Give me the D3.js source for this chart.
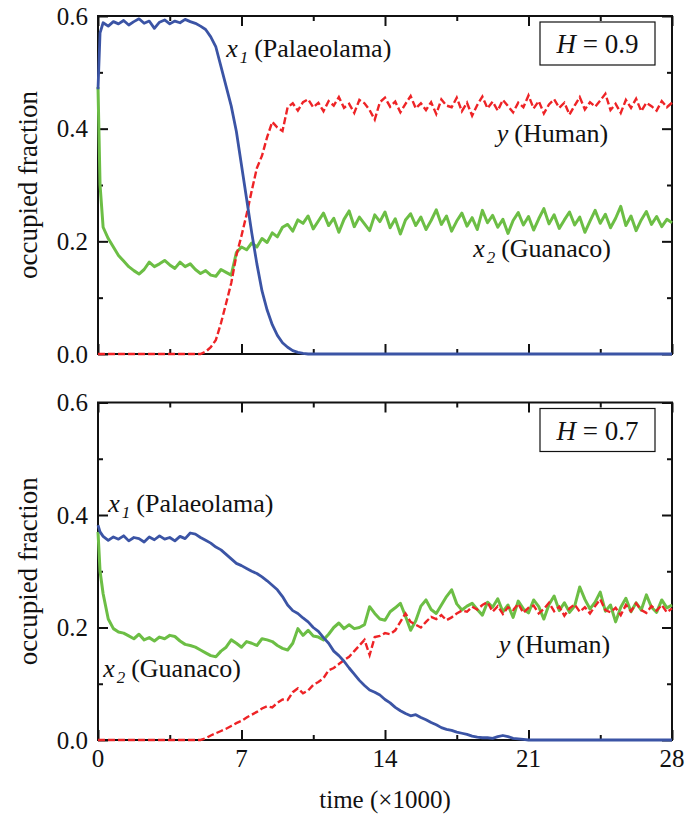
<!DOCTYPE html>
<html>
<head>
<meta charset="utf-8">
<script src="https://cdn.jsdelivr.net/npm/d3@7"></script>
<style>
  html, body { margin: 0; padding: 0; background: #fff; }
  svg { display: block; }
  text { font-family: "Liberation Serif", "Times New Roman", serif; fill: #111; }
</style>
</head>
<body>
<svg id="chart" width="695" height="814"></svg>
<script>
// ---------- DATA ----------
// time grid (×1000): 0, 0.1, then every 0.25 up to 28
const time = [0, 0.1].concat(d3.range(1, 113).map(i => i * 0.25));

const xTicksMajor = [0, 7, 14, 21, 28];
const xTicksMinor = [3.5, 10.5, 17.5, 24.5];
const yTicksMajor = [0, 0.2, 0.4, 0.6];
const yTicksMinor = [0.1, 0.3, 0.5];

const panelH = ["0.9", "0.7"];

// H = 0.9 panel
const palaeolamaH9 = [0.47, 0.57,
  0.588, 0.582, 0.590, 0.586,  0.592, 0.584, 0.590, 0.595,  0.587, 0.591, 0.578, 0.589,
  0.593, 0.586, 0.591, 0.588,  0.594, 0.590, 0.587, 0.582,  0.576, 0.563, 0.545, 0.510,
  0.475, 0.440, 0.395, 0.335,  0.275, 0.215, 0.160, 0.112,  0.078, 0.052, 0.033, 0.020,
  0.012, 0.006, 0.003, 0.001,  0, 0, 0, 0,  0, 0, 0, 0,  0, 0, 0, 0,  0, 0, 0, 0,
  0, 0, 0, 0,  0, 0, 0, 0,  0, 0, 0, 0,  0, 0, 0, 0,  0, 0, 0, 0,  0, 0, 0, 0,
  0, 0, 0, 0,  0, 0, 0, 0,  0, 0, 0, 0,  0, 0, 0, 0,  0, 0, 0, 0,  0, 0, 0, 0,
  0, 0, 0, 0,  0, 0, 0, 0];
const humanH9 = [0, 0,
  0, 0, 0, 0,  0, 0, 0, 0,  0, 0, 0, 0,  0, 0, 0, 0,  0, 0, 0, 0,
  0.004, 0.012, 0.025, 0.055,  0.09, 0.126, 0.175, 0.21,  0.248, 0.29, 0.33, 0.352,
  0.385, 0.412, 0.402, 0.396,  0.438, 0.445, 0.432, 0.447,  0.452, 0.438, 0.446, 0.431,
  0.449, 0.441, 0.456, 0.437,  0.444, 0.428, 0.451, 0.445,  0.433, 0.416, 0.447, 0.455,
  0.439, 0.448, 0.429, 0.444,  0.458, 0.436, 0.445, 0.433,  0.447, 0.426, 0.452, 0.441,
  0.438, 0.455, 0.431, 0.446,  0.423, 0.442, 0.457, 0.436,  0.448, 0.432, 0.451, 0.44,
  0.429, 0.446, 0.438, 0.459,  0.436, 0.449, 0.427, 0.443,  0.452, 0.437, 0.446, 0.425,
  0.441, 0.456, 0.434, 0.447,  0.439, 0.45, 0.462, 0.433,  0.444, 0.428, 0.451, 0.437,
  0.453, 0.431, 0.446, 0.44,  0.432, 0.449, 0.438, 0.446];
const guanacoH9 = [0.474, 0.30,
  0.225, 0.205, 0.19, 0.175,  0.165, 0.155, 0.148, 0.142,  0.15, 0.163, 0.155, 0.16,
  0.166, 0.158, 0.152, 0.163,  0.155, 0.16, 0.15, 0.143,  0.148, 0.14, 0.138, 0.15,
  0.145, 0.14, 0.18, 0.19,  0.185, 0.197, 0.19, 0.205,  0.198, 0.215, 0.208, 0.225,
  0.23, 0.218, 0.238, 0.232,  0.245, 0.222, 0.236, 0.25,  0.228, 0.241, 0.216, 0.239,
  0.254, 0.226, 0.243, 0.231,  0.219, 0.247, 0.235, 0.252,  0.224, 0.24, 0.213, 0.238,
  0.249, 0.228, 0.243, 0.221,  0.237, 0.256, 0.23, 0.245,  0.218, 0.236, 0.25, 0.227,
  0.242, 0.221, 0.255, 0.233,  0.246, 0.225, 0.239, 0.214,  0.237, 0.251, 0.229, 0.244,
  0.22, 0.24, 0.258, 0.231,  0.247, 0.223, 0.238, 0.252,  0.229, 0.243, 0.216, 0.236,
  0.255, 0.232, 0.248, 0.224,  0.241, 0.262, 0.228, 0.245,  0.219, 0.238, 0.253, 0.23,
  0.244, 0.226, 0.239, 0.233];

// H = 0.7 panel
const palaeolamaH7 = [0.382, 0.37,
  0.362, 0.355, 0.361, 0.357,  0.363, 0.354, 0.36, 0.358,  0.352, 0.361, 0.356, 0.363,
  0.357, 0.36, 0.354, 0.362,  0.358, 0.368, 0.366, 0.36,  0.355, 0.35, 0.343, 0.338,
  0.33, 0.322, 0.314, 0.31,  0.305, 0.3, 0.296, 0.29,  0.283, 0.275, 0.267, 0.255,
  0.24, 0.23, 0.225, 0.217,  0.21, 0.2, 0.193, 0.182,  0.172, 0.158, 0.15, 0.14,
  0.128, 0.117, 0.106, 0.097,  0.089, 0.085, 0.08, 0.072,  0.066, 0.058, 0.052, 0.047,
  0.043, 0.045, 0.04, 0.036,  0.031, 0.027, 0.022, 0.019,  0.017, 0.014, 0.012, 0.01,
  0.007, 0.005, 0.004, 0.004,  0.003, 0.006, 0.008, 0.006,  0.003, 0.002, 0.001, 0,
  0, 0, 0, 0,  0, 0, 0, 0,  0, 0, 0, 0,  0, 0, 0, 0,  0, 0, 0, 0,  0, 0, 0, 0,
  0, 0, 0, 0];
const humanH7 = [0, 0,
  0, 0, 0, 0,  0, 0, 0, 0,  0, 0, 0, 0,  0, 0, 0, 0,  0, 0, 0, 0,
  0.003, 0.008, 0.012, 0.016,  0.02, 0.025, 0.03, 0.034,  0.04, 0.045, 0.05, 0.056,
  0.06, 0.058, 0.066, 0.072,  0.071, 0.085, 0.092, 0.083,  0.088, 0.098, 0.103, 0.11,
  0.124, 0.128, 0.135, 0.142,  0.148, 0.158, 0.168, 0.178,  0.151, 0.183, 0.185, 0.19,
  0.188, 0.195, 0.21, 0.225,  0.21, 0.205, 0.2, 0.21,  0.219, 0.215, 0.222, 0.213,
  0.218, 0.225, 0.23, 0.228,  0.237, 0.232, 0.24, 0.245,  0.228, 0.238, 0.224, 0.236,
  0.231, 0.242, 0.226, 0.235,  0.239, 0.225, 0.233, 0.244,  0.229, 0.237, 0.221, 0.234,
  0.241, 0.228, 0.236, 0.225,  0.238, 0.25, 0.231, 0.227,  0.235, 0.222, 0.24, 0.229,
  0.243, 0.231, 0.226, 0.238,  0.23, 0.24, 0.227, 0.234];
const guanacoH7 = [0.37, 0.30,
  0.26, 0.215, 0.198, 0.192,  0.19, 0.185, 0.18, 0.188,  0.178, 0.182, 0.176, 0.183,
  0.18, 0.186, 0.184, 0.176,  0.17, 0.168, 0.165, 0.16,  0.155, 0.15, 0.148, 0.158,
  0.165, 0.178, 0.172, 0.165,  0.175, 0.172, 0.168, 0.18,  0.178, 0.175, 0.168, 0.163,
  0.16, 0.172, 0.198, 0.186,  0.195, 0.185, 0.183, 0.178,  0.188, 0.2, 0.208, 0.198,
  0.205, 0.198, 0.2, 0.205,  0.237, 0.225, 0.215, 0.213,  0.228, 0.235, 0.243, 0.22,
  0.195, 0.212, 0.238, 0.249,  0.232, 0.225, 0.24, 0.255,  0.267, 0.242, 0.231, 0.238,
  0.243, 0.232, 0.222, 0.245,  0.236, 0.251, 0.228, 0.24,  0.218, 0.247, 0.233, 0.226,
  0.249, 0.237, 0.215, 0.241,  0.256, 0.23, 0.244, 0.227,  0.238, 0.272, 0.25, 0.233,
  0.245, 0.263, 0.229, 0.24,  0.21, 0.236, 0.252, 0.228,  0.244, 0.231, 0.258, 0.236,
  0.227, 0.249, 0.235, 0.24];

// ---------- STYLE ----------
const colors = { palaeolama: "#3b54a5", guanaco: "#6cbe45", human: "#ee2326" };

const svg = d3.select("#chart");
const x = d3.scaleLinear().domain([0, 28]).range([98, 672]);

const panels = [
  { H: panelH[0], y: d3.scaleLinear().domain([0, 0.6]).range([354, 16]),
    p: palaeolamaH9, g: guanacoH9, h: humanH9,
    labels: [
      { name: "x", sub: "1", rest: "(Palaeolama)", t: 6.25, v: 0.527 },
      { name: "y", sub: null, rest: "(Human)", t: 19.45, v: 0.377 },
      { name: "x", sub: "2", rest: "(Guanaco)", t: 18.3, v: 0.172 }
    ], showX: false },
  { H: panelH[1], y: d3.scaleLinear().domain([0, 0.6]).range([740, 402.5]),
    p: palaeolamaH7, g: guanacoH7, h: humanH7,
    labels: [
      { name: "x", sub: "1", rest: "(Palaeolama)", t: 0.5, v: 0.405 },
      { name: "x", sub: "2", rest: "(Guanaco)", t: 0.25, v: 0.112 },
      { name: "y", sub: null, rest: "(Human)", t: 19.55, v: 0.155 }
    ], showX: true }
];

panels.forEach(P => {
  const y = P.y;
  const g = svg.append("g");
  const [x0, x1] = x.range();
  const [yb, yt] = y.range();

  // ticks (inward) on all four sides
  const addAxis = (axisFn, scale, vals, size, transform) => {
    const a = g.append("g").attr("transform", transform)
      .call(axisFn(scale).tickValues(vals).tickSize(size).tickFormat(""));
    a.select(".domain").remove();
    a.selectAll("line").attr("stroke", "#111").attr("stroke-width", 2);
    return a;
  };
  addAxis(d3.axisBottom, x, xTicksMajor, -10, `translate(0,${yb})`);
  addAxis(d3.axisBottom, x, xTicksMinor, -5, `translate(0,${yb})`);
  addAxis(d3.axisTop, x, xTicksMajor, -10, `translate(0,${yt})`);
  addAxis(d3.axisTop, x, xTicksMinor, -5, `translate(0,${yt})`);
  addAxis(d3.axisLeft, y, yTicksMajor, -10, `translate(${x0},0)`);
  addAxis(d3.axisLeft, y, yTicksMinor, -5, `translate(${x0},0)`);
  addAxis(d3.axisRight, y, yTicksMajor, -10, `translate(${x1},0)`);
  addAxis(d3.axisRight, y, yTicksMinor, -5, `translate(${x1},0)`);

  // frame
  g.append("rect").attr("x", x0).attr("y", yt).attr("width", x1 - x0).attr("height", yb - yt)
    .attr("fill", "none").attr("stroke", "#111").attr("stroke-width", 2);

  // y tick labels
  g.selectAll("text.ytl").data(yTicksMajor).join("text").attr("class", "ytl")
    .attr("x", x0 - 10).attr("y", d => y(d)).attr("dy", "0.34em")
    .attr("text-anchor", "end").attr("font-size", 25).text(d3.format(".1f"));

  // x tick labels
  if (P.showX) {
    g.selectAll("text.xtl").data(xTicksMajor).join("text").attr("class", "xtl")
      .attr("x", d => x(d)).attr("y", yb + 27)
      .attr("text-anchor", "middle").attr("font-size", 25).text(d => d);
  }

  // y axis title
  g.append("text")
    .attr("transform", `translate(37,${(yb + yt) / 2}) rotate(-90)`)
    .attr("text-anchor", "middle").attr("font-size", 27).text("occupied fraction");

  // lines
  const line = vals => d3.line().x((d, i) => x(time[i])).y(d => y(d))(vals);
  g.append("path").attr("d", line(P.g)).attr("fill", "none")
    .attr("stroke", colors.guanaco).attr("stroke-width", 3).attr("stroke-linejoin", "round");
  g.append("path").attr("d", line(P.h)).attr("fill", "none")
    .attr("stroke", colors.human).attr("stroke-width", 2.4).attr("stroke-dasharray", "7,3");
  g.append("path").attr("d", line(P.p)).attr("fill", "none")
    .attr("stroke", colors.palaeolama).attr("stroke-width", 2.8).attr("stroke-linejoin", "round");

  // series labels
  P.labels.forEach(L => {
    const t = g.append("text").attr("x", x(L.t)).attr("y", y(L.v)).attr("font-size", 26);
    t.append("tspan").attr("font-style", "italic").text(L.name);
    if (L.sub) {
      t.append("tspan").attr("font-style", "italic").attr("font-size", 17)
        .attr("dy", 6).attr("dx", 2).text(L.sub);
      t.append("tspan").attr("dy", -6).attr("dx", 6).text(L.rest);
    } else {
      t.append("tspan").attr("dx", 6).text(L.rest);
    }
  });

  // H box
  const bx = x1 - 17, bw = 115, by = yt + 6, bh = 43;
  g.append("rect").attr("x", bx - bw).attr("y", by).attr("width", bw).attr("height", bh)
    .attr("fill", "#fff").attr("stroke", "#111").attr("stroke-width", 1.2);
  const ht = g.append("text").attr("x", bx - bw / 2).attr("y", by + 31)
    .attr("text-anchor", "middle").attr("font-size", 27);
  ht.append("tspan").attr("font-style", "italic").text("H");
  ht.append("tspan").text(" = " + P.H);
});

// x axis title
svg.append("text").attr("x", x(14)).attr("y", 808).attr("text-anchor", "middle")
  .attr("font-size", 25).text("time (\u00d71000)");
</script>
</body>
</html>
